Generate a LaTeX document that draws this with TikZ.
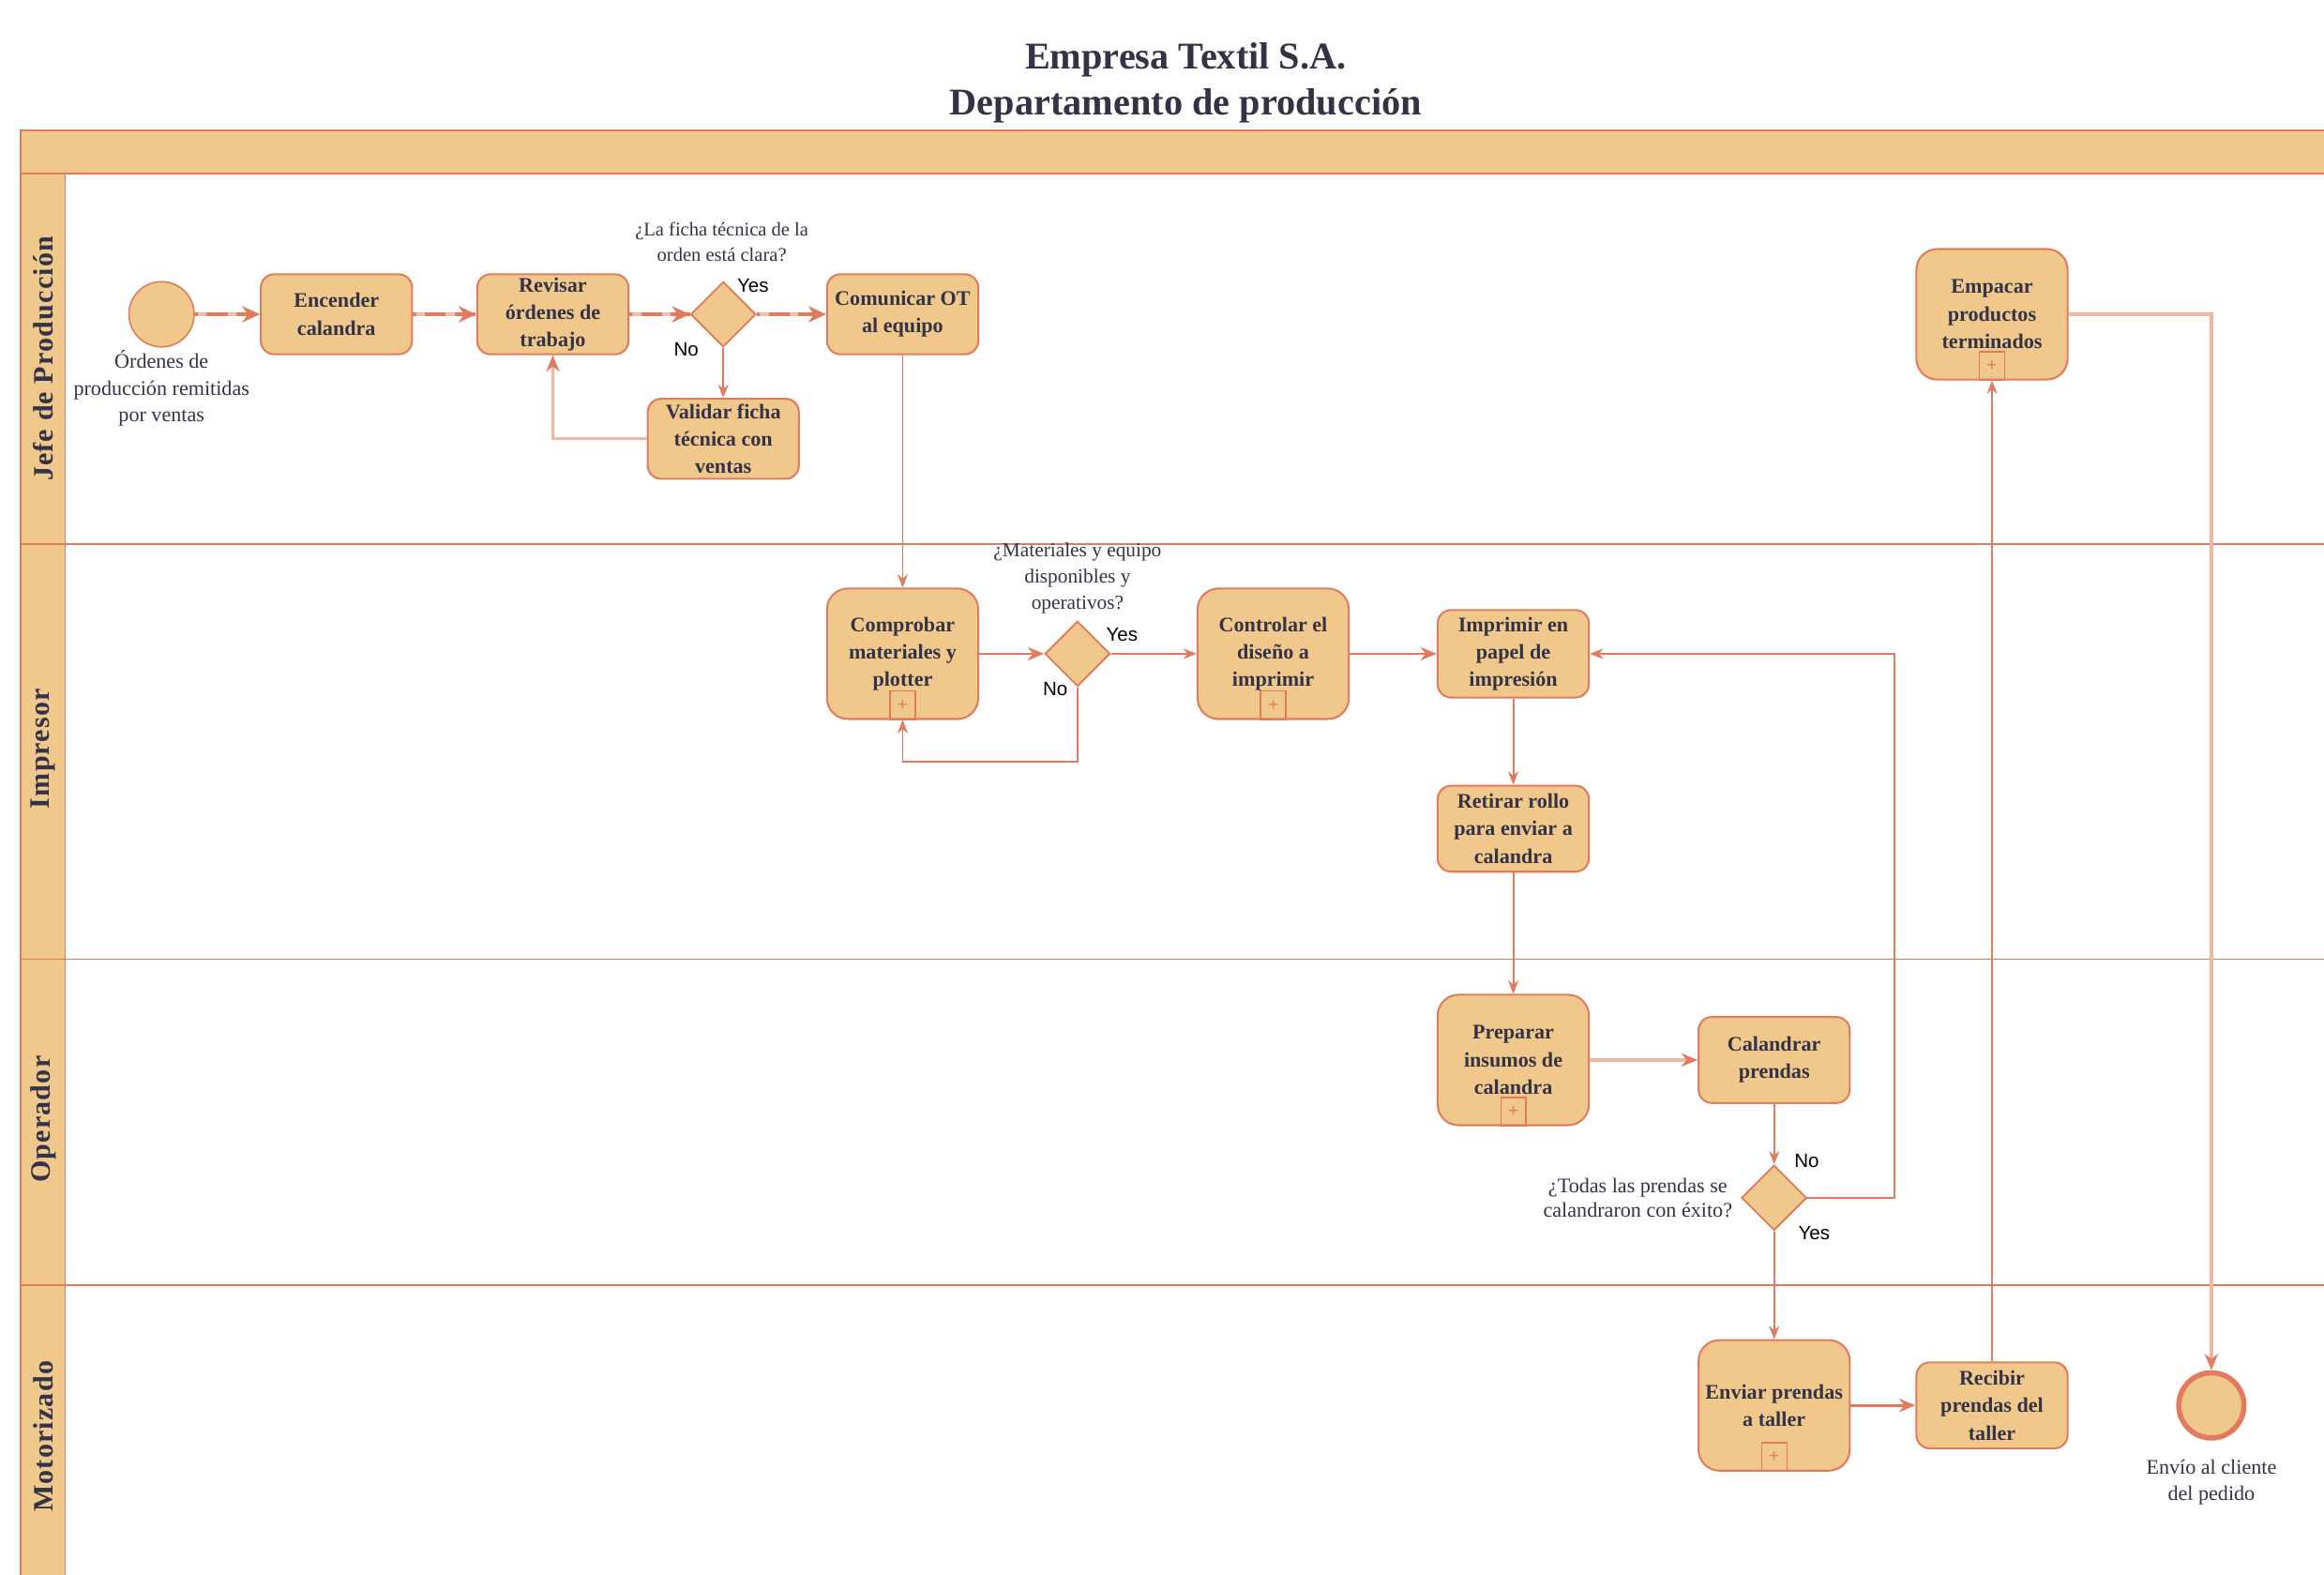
\documentclass[tikz,border=0pt]{standalone}
\usepackage{fontspec}
\setmainfont{Liberation Serif}
\newfontfamily\sansf{Liberation Sans}
\usetikzlibrary{shapes.geometric,arrows.meta,calc}
\definecolor{fc}{HTML}{F0C88C}
\definecolor{lc}{HTML}{E27B5E}
\definecolor{tc}{HTML}{333347}
\tikzset{
  task/.style={draw=lc, fill=fc, rounded corners=9pt, line width=1.3pt,
    minimum width=102pt, minimum height=54pt, align=center, text=tc,
    inner sep=1pt, font=\fontsize{14}{18.5}\selectfont\bfseries},
  bigtask/.style={task, minimum height=88pt, rounded corners=14pt},
  gw/.style={diamond, draw=lc, fill=fc, minimum width=44pt, minimum height=44pt,
    inner sep=0pt, line width=1.2pt},
  ev/.style={circle, draw=lc, fill=fc, minimum size=44pt, inner sep=0pt, line width=1pt},
  endevent/.style={ev, line width=3.5pt},
  evlabel/.style={align=center, text=tc, font=\fontsize{14}{18}\selectfont},
  qlabel/.style={align=center, text=tc, font=\fontsize{13}{17}\selectfont},
  yn/.style={text=black, font=\sansf\fontsize{13}{15}\selectfont, inner sep=0pt},
  lanelabel/.style={rotate=90, text=tc, font=\fontsize{19}{22}\selectfont\bfseries\addfontfeatures{LetterSpace=4}},
  mk/.style={draw=lc, line width=0.8pt, minimum width=17pt, minimum height=19pt,
    inner sep=0pt, anchor=south, text=lc, font=\sansf\fontsize{12}{12}\selectfont},
  flow/.style={draw=lc, line width=1.2pt, -{Stealth[length=9pt,width=7pt]}},
  flowmid/.style={draw=lc, line width=1.8pt, -{Stealth[length=11pt,width=9pt]}},
  flowthick/.style={draw=lc!50, line width=2.8pt, -{Stealth[length=12pt,width=11pt,color=lc]},
    postaction={draw=lc, -, line width=2.8pt, dash pattern=on 14pt off 6pt, dash phase=-8pt}},
  flowpale/.style={draw=lc!55, line width=2pt, -{Stealth[length=11pt,width=9pt,color=lc]}},
}
\begin{document}
\begin{tikzpicture}[x=1pt,y=-1pt]
\useasboundingbox (0,0) rectangle (1568,1062);
\fill[white] (0,0) rectangle (1568,1062);
\clip (0,0) rectangle (1568,1062);

% title
\node[align=center, text=tc, font=\fontsize{25.5}{31}\selectfont\bfseries] (title) at (800,56)
  {Empresa Textil S.A.\\Departamento de producción};

% pool
\draw[lc, line width=1.3pt, fill=fc] (14,88) rectangle (1600,117);
\draw[lc, line width=1pt, fill=fc] (14,117) rectangle (44,1100);
\foreach \yy in {367,647,867} \draw[lc, line width=1.2pt] (14,\yy) -- (1600,\yy);

\node[lanelabel] (lj) at (29,242) {Jefe de Producción};
\node[lanelabel] (li) at (29,505) {Impresor};
\node[lanelabel] (lo) at (29,755) {Operador};
\node[lanelabel] (lm) at (29,969) {Motorizado};

% Jefe de produccion
\node[ev] (start) at (109,212) {};
\node[evlabel] (startl) at (109,262) {Órdenes de\\producción remitidas\\por ventas};
\node[task] (enc) at (227,212) {Encender\\calandra};
\node[task] (rev) at (373,212) {Revisar\\órdenes de\\trabajo};
\node[gw] (gw1) at (488,212) {};
\node[qlabel] (q1) at (487,163) {¿La ficha técnica de la\\orden está clara?};
\node[yn] (y1) at (508,193) {Yes};
\node[yn] (n1) at (463,236) {No};
\node[task] (com) at (609,212) {Comunicar OT\\al equipo};
\node[task] (val) at (488,296) {Validar ficha\\técnica con\\ventas};
\node[bigtask] (emp) at (1344,212) {Empacar\\productos\\terminados};
\node[mk] (empm) at (emp.south) {+};

% Impresor
\node[bigtask] (comp) at (609,441) {Comprobar\\materiales y\\plotter};
\node[mk] (compm) at (comp.south) {+};
\node[gw] (gw2) at (727,441) {};
\node[qlabel, font=\fontsize{13.5}{18}\selectfont] (q2) at (727,390) {¿Materiales y equipo\\disponibles y\\operativos?};
\node[yn] (y2) at (757,428) {Yes};
\node[yn] (n2) at (712,465) {No};
\node[bigtask] (ctrl) at (859,441) {Controlar el\\diseño a\\imprimir};
\node[mk] (ctrlm) at (ctrl.south) {+};
\node[task, minimum height=59pt] (imp) at (1021,441) {Imprimir en\\papel de\\impresión};
\node[task, minimum height=58pt] (ret) at (1021,559) {Retirar rollo\\para enviar a\\calandra};

% Operador
\node[bigtask] (prep) at (1021,715) {Preparar\\insumos de\\calandra};
\node[mk] (prepm) at (prep.south) {+};
\node[task, minimum height=58pt] (cal) at (1197,715) {Calandrar\\prendas};
\node[gw] (gw3) at (1197,808) {};
\node[qlabel, font=\fontsize{14}{17}\selectfont] (q3) at (1105,808) {¿Todas las prendas se\\calandraron con éxito?};
\node[yn] (n3) at (1219,783) {No};
\node[yn] (y3) at (1224,832) {Yes};

% Motorizado
\node[bigtask] (env) at (1197,948) {Enviar prendas\\a taller};
\node[mk] (envm) at (env.south) {+};
\node[task, minimum height=58pt] (rec) at (1344,948) {Recibir\\prendas del\\taller};
\node[endevent] (endev) at (1492,948) {};
\node[evlabel] (endl) at (1492,1000) {Envío al cliente\\del pedido};

% connectors
\coordinate (c2) at (727,514);
\coordinate (c3) at (1278,441);
\draw[flowthick] (start) -- (enc);
\draw[flowthick] (enc) -- (rev);
\draw[flowthick] (rev) -- (gw1);
\draw[flowthick] (gw1) -- (com);
\draw[flow] (gw1) -- (val);
\draw[flowpale] (val.west) -| (rev.south);
\draw[flow] (com) -- (comp);
\draw[flowmid] (comp) -- (gw2);
\draw[flow] (gw2.south) -- (c2) -| (compm.south);
\draw[flow] (gw2) -- (ctrl);
\draw[flowmid] (ctrl) -- (imp);
\draw[flow] (imp) -- (ret);
\draw[flow] (ret) -- (prep);
\draw[flowpale] (prep) -- (cal);
\draw[flow] (cal) -- (gw3);
\draw[flow] (gw3.east) -| (c3) -- (imp.east);
\draw[flow] (gw3) -- (env);
\draw[flowmid] (env) -- (rec);
\draw[flow] (rec) -- (empm.south);
\draw[flowpale] (emp.east) -| (endev.north);
\end{tikzpicture}
\end{document}
